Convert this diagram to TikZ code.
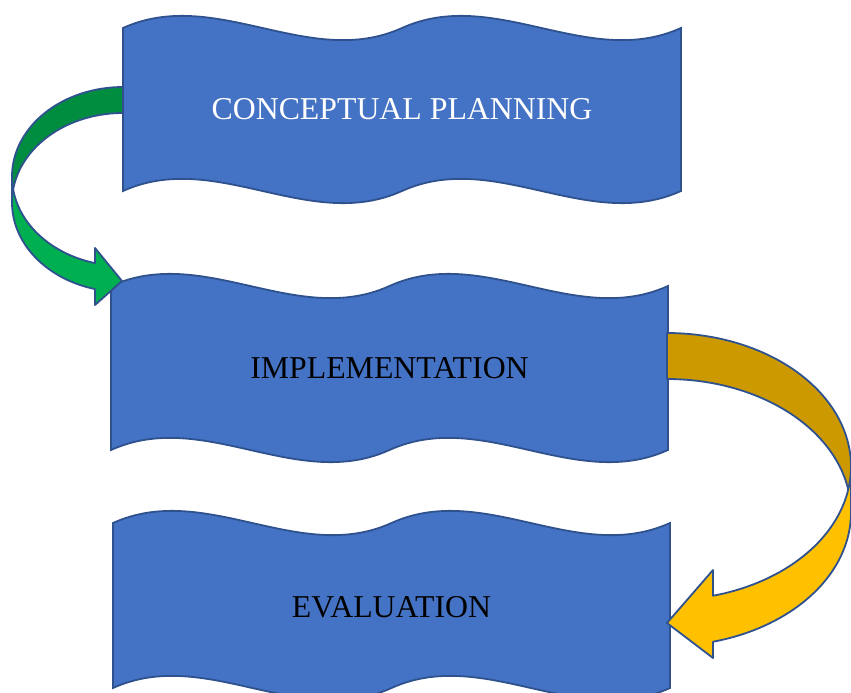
\documentclass[tikz,border=0pt]{standalone}
\usepackage{fontspec}
\setmainfont{Liberation Serif}
\usepackage{xcolor}
\usepackage{tikz}

\definecolor{boxblue}{HTML}{4472C4}
\definecolor{edgeblue}{HTML}{2F528F}
\definecolor{grnlight}{HTML}{00B050}
\definecolor{grndark}{HTML}{008D40}
\definecolor{goldlight}{HTML}{FFC000}
\definecolor{golddark}{HTML}{CC9A00}

% double wave banner: left, right, top, bottom (y runs downwards)
\newcommand{\dblwave}[4]{%
  \filldraw[wave]
    ({#1},{#3}) .. controls ({#1+(#2-#1)/6},{#3-42}) and ({#1+(#2-#1)/3},{#3+42}) .. ({(#1+#2)/2},{#3})
      .. controls ({#1+2*(#2-#1)/3},{#3-42}) and ({#1+5*(#2-#1)/6},{#3+42}) .. ({#2},{#3})
    -- ({#2},{#4})
      .. controls ({#2-(#2-#1)/6},{#4+42}) and ({#2-(#2-#1)/3},{#4-42}) .. ({(#1+#2)/2},{#4})
      .. controls ({#2-2*(#2-#1)/3},{#4+42}) and ({#2-5*(#2-#1)/6},{#4-42}) .. ({#1},{#4})
    -- cycle;}

\begin{document}
\begin{tikzpicture}[x=1pt, y=-1pt,
  wave/.style={fill=boxblue, draw=edgeblue, line width=1.8pt},
  band/.style={fill=#1, draw=edgeblue, line width=1.8pt, line join=round},
  lbl/.style={font=\fontsize{31.8}{36}\selectfont, inner sep=0pt}]
  \useasboundingbox (0,0) rectangle (851,693);

  % the three stages
  \dblwave{123}{681}{28}{191}
  \dblwave{111}{668}{286}{450}
  \dblwave{113}{670}{523}{688}

  % green arrow: planning -> implementation
  \path[band=grndark]
    plot[domain=270:180, samples=40, variable=\t] ({123+111*cos(\t)},{176.5+89.5*sin(\t)})
    -- plot[domain=180:270, samples=40, variable=\t] ({123+111*cos(\t)},{202.5+89.5*sin(\t)})
    -- cycle;
  \path[band=grnlight]
    plot[domain=180:104.6, samples=40, variable=\t] ({123+111*cos(\t)},{176.5+89.5*sin(\t)})
    -- (95,248) -- (122,281) -- (95,305)
    -- plot[domain=104.6:180, samples=40, variable=\t] ({123+111*cos(\t)},{202.5+89.5*sin(\t)})
    -- cycle;

  % gold arrow: implementation -> evaluation
  \path[band=golddark]
    plot[domain=270:360, samples=40, variable=\t] ({667+184*cos(\t)},{466.5+133.5*sin(\t)})
    -- plot[domain=360:270, samples=40, variable=\t] ({667+184*cos(\t)},{512.5+133.5*sin(\t)})
    -- cycle;
  \path[band=goldlight]
    plot[domain=0:75.5, samples=40, variable=\t] ({667+184*cos(\t)},{466.5+133.5*sin(\t)})
    -- (713,570) -- (667,623) -- (713,658)
    -- plot[domain=75.5:0, samples=40, variable=\t] ({667+184*cos(\t)},{512.5+133.5*sin(\t)})
    -- cycle;

  \node[lbl, text=white] (plan) at (402,109)   {CONCEPTUAL PLANNING};
  \node[lbl]             (impl) at (389.5,368) {IMPLEMENTATION};
  \node[lbl]             (eval) at (391.5,607) {EVALUATION};
\end{tikzpicture}
\end{document}
